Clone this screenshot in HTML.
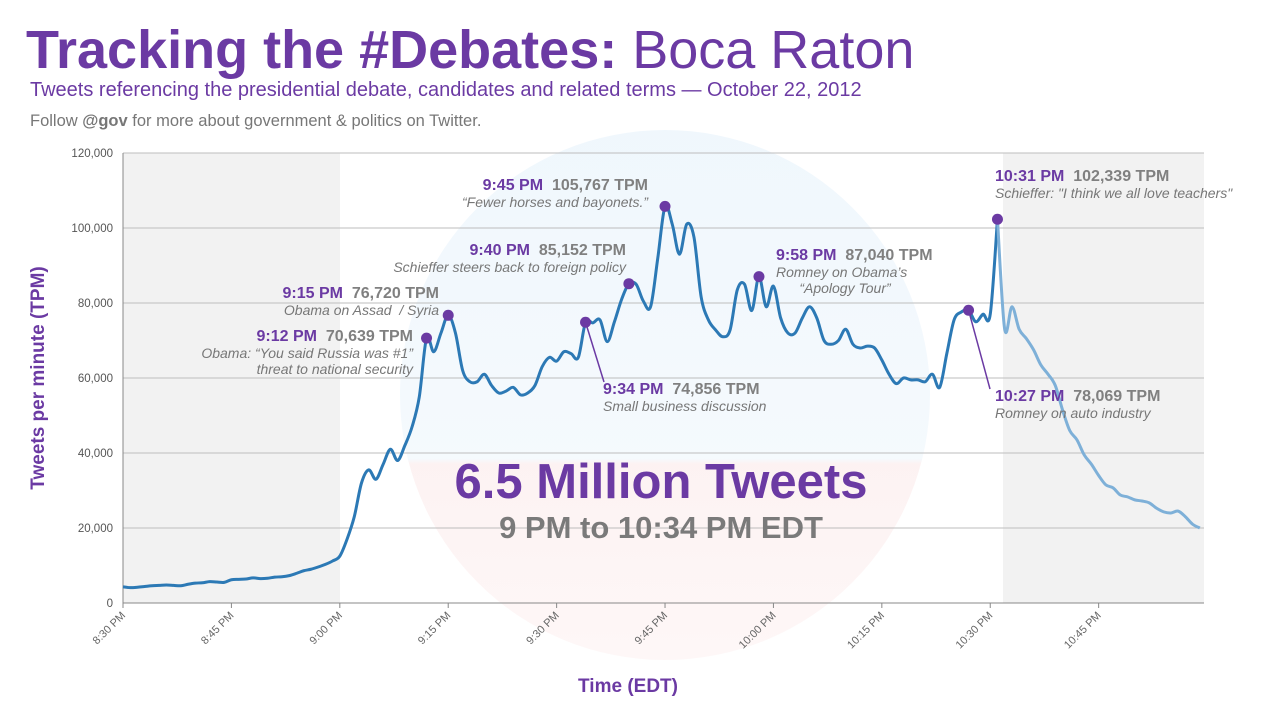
<!DOCTYPE html>
<html><head><meta charset="utf-8"><style>
html,body{margin:0;padding:0;background:#fff;}
svg{display:block;font-family:"Liberation Sans",Arial,sans-serif;}
</style></head><body>
<svg id="chart" width="1280" height="720" viewBox="0 0 1280 720">
<defs>
<linearGradient id="wm" x1="0" y1="0" x2="0" y2="1">
<stop offset="0" stop-color="#e6f2fb"/><stop offset="0.62" stop-color="#eef6fc"/><stop offset="0.63" stop-color="#fbeaea"/><stop offset="1" stop-color="#fdf2f2"/>
</linearGradient>
</defs>
<rect x="123" y="153" width="217" height="450" fill="#f2f2f2"/>
<rect x="1003" y="153" width="201" height="450" fill="#f2f2f2"/>
<circle cx="665" cy="395" r="265" fill="url(#wm)" opacity="0.6"/>
<g id="grid"></g>
<g id="yticks"></g>
<g id="xticks"></g>
<g id="series"></g>
<g id="annots"></g>
<text x="26" y="68" font-size="54" fill="#6b3aa3"><tspan font-weight="bold">Tracking the #Debates:</tspan> Boca Raton</text>
<text x="30" y="96" font-size="20" fill="#6b3aa3">Tweets referencing the presidential debate, candidates and related terms — October 22, 2012</text>
<text x="30" y="126" font-size="16.5" fill="#777">Follow <tspan font-weight="bold">@gov</tspan> for more about government &amp; politics on Twitter.</text>
<text transform="translate(44,378) rotate(-90)" text-anchor="middle" font-size="19" font-weight="bold" fill="#6b3aa3">Tweets per minute (TPM)</text>
<text x="628" y="692" text-anchor="middle" font-size="19" font-weight="bold" fill="#6b3aa3">Time (EDT)</text>
<text x="661" y="498" text-anchor="middle" font-size="49" font-weight="bold" fill="#6b3aa3">6.5 Million Tweets</text>
<text x="661" y="538" text-anchor="middle" font-size="31" font-weight="bold" fill="#7a7a7a">9 PM to 10:34 PM EDT</text>
</svg>
<script>
const yTicks = [0,20000,40000,60000,80000,100000,120000];
const xTickLabels = ["8:30 PM","8:45 PM","9:00 PM","9:15 PM","9:30 PM","9:45 PM","10:00 PM","10:15 PM","10:30 PM","10:45 PM"];
const xTickMinutes = [0,15,30,45,60,75,90,105,120,135];
// thousands of tweets per minute, one per minute starting 8:30 PM
const tpm = [4.3,4.1,4.2,4.4,4.6,4.7,4.8,4.7,4.6,5.0,5.3,5.4,5.7,5.6,5.5,6.2,6.3,6.4,6.7,6.5,6.6,6.9,7.0,7.3,7.9,8.6,9.0,9.6,10.3,11.2,
12.5,17,23,32,35.5,33,37,41,38,42,47,55,70.64,67,72,76.72,72,62,59,59,61,58,56,56.5,57.5,55.5,56,58,63,65.5,
64.5,67,66.5,65.5,74.86,74.7,75.5,69.7,75,81,85.15,85,80.5,79,92,105.77,101,93,101,97.6,
81.6,75.5,72.8,71,72.8,83.5,85,78,87.04,79,84.5,76,72,72,76,79,76,70,69,70,
73,69,68,68.5,68,64.8,61,58.5,60,59.5,59.5,59,61,57.5,66.6,75.5,77.6,78.07,75,77,
77,102.34,73,79,73,70.5,67.5,63.5,61,58,51.5,46,43.5,39.5,37,34,31.5,30.7,28.8,28.3,
27.5,27.2,26.7,25.3,24.3,24,24.5,23,21,20];
const debateEndIndex = 121;
const annTimes = ["9:12 PM","9:15 PM","9:34 PM","9:40 PM","9:45 PM","9:58 PM","10:27 PM","10:31 PM"];
const annMinutes = [42,45,64,70,75,88,117,121];
const annValues = ["70,639","76,720","74,856","85,152","105,767","87,040","78,069","102,339"];

const NS="http://www.w3.org/2000/svg";
const X0=123, PX_PER_MIN=7.227, Y0=603, PX_PER_K=3.75;
const xs=m=>X0+m*PX_PER_MIN;
const ys=k=>Y0-k*PX_PER_K;
function mk(tag,attrs,parent,text){const e=document.createElementNS(NS,tag);for(const k in attrs)e.setAttribute(k,attrs[k]);if(text!==undefined)e.textContent=text;parent.appendChild(e);return e;}
const grid=document.getElementById('grid'), yt=document.getElementById('yticks'), xt=document.getElementById('xticks'), ser=document.getElementById('series'), an=document.getElementById('annots');

yTicks.forEach(v=>{
  const y=ys(v/1000);
  const l=mk('line',{x1:X0,x2:1204,y1:y,y2:y,stroke:v===0?'#888':'#bdbdbd','stroke-width':1},grid);
  
  
  const t=mk('text',{x:113,y:y+4,'text-anchor':'end','font-size':11.5,fill:'#555'},yt,v.toLocaleString('en-US'));
  
  
});
const ax=mk('line',{x1:X0,x2:X0,y1:153,y2:Y0,stroke:'#888'},grid);


xTickMinutes.forEach((m,i)=>{
  const x=xs(m);
  const tk=mk('line',{x1:x,x2:x,y1:Y0,y2:Y0+5,stroke:'#888'},xt);
  
  
  const t=mk('text',{transform:`translate(${x+3},${Y0+13}) rotate(-45)`,'text-anchor':'end','font-size':11,fill:'#666'},xt,xTickLabels[i]);
  
  
});

function pathFor(a,b){
  const pts=[];for(let i=a;i<=b;i++)pts.push([xs(i),ys(tpm[i])]);
  let d=`M${pts[0][0]},${pts[0][1]}`;
  for(let i=0;i<pts.length-1;i++){
    const p0=pts[Math.max(0,i-1)],p1=pts[i],p2=pts[i+1],p3=pts[Math.min(pts.length-1,i+2)];
    const c1=[p1[0]+(p2[0]-p0[0])/6,p1[1]+(p2[1]-p0[1])/6];
    const c2=[p2[0]-(p3[0]-p1[0])/6,p2[1]-(p3[1]-p1[1])/6];
    d+=` C${c1[0]},${c1[1]} ${c2[0]},${c2[1]} ${p2[0]},${p2[1]}`;
  }
  return d;
}
const p1=mk('path',{d:pathFor(0,debateEndIndex),fill:'none',stroke:'#2c79b5','stroke-width':3,'stroke-linejoin':'round'},ser);


const p2=mk('path',{d:pathFor(debateEndIndex,tpm.length-1),fill:'none',stroke:'#7eb0d8','stroke-width':3,'stroke-linejoin':'round'},ser);



// annotation text layout: [anchor, x, y, descLines, leaderTo]
const layout=[
 ['end',413,341,["Obama: “You said Russia was #1”","threat to national security"],null],
 ['end',439,298,["Obama on Assad  / Syria"],null],
 ['start',603,394,["Small business discussion"],[604,382]],
 ['end',626,255,["Schieffer steers back to foreign policy"],null],
 ['end',648,190,["“Fewer horses and bayonets.”"],null],
 ['start',776,260,["Romney on Obama’s","      “Apology Tour”"],null],
 ['start',995,401,["Romney on auto industry"],[990,389]],
 ['start',995,181,["Schieffer: \"I think we all love teachers\""],null]
];
annMinutes.forEach((m,i)=>{
  const [anc,x,y,desc,lead]=layout[i];
  const cx=xs(m), cy=ys(tpm[m]);
  if(lead){const l=mk('line',{x1:cx,y1:cy,x2:lead[0],y2:lead[1],stroke:'#6b3aa3','stroke-width':1.5},an);
    
    }
  const c=mk('circle',{cx:cx,cy:cy,r:5.5,fill:'#6b3aa3'},an);
  
  
  const t=mk('text',{x:x,y:y,'text-anchor':anc,'font-size':16,'font-weight':'bold'},an);
  
  
  mk('tspan',{fill:'#6b3aa3'},t,annTimes[i]+' ');
  mk('tspan',{fill:'#808080'},t,' '+annValues[i]+' TPM');
  t.style.whiteSpace='pre';
  desc.forEach((d,j)=>{
    const dt=mk('text',{x:x,y:y+17+j*16,'text-anchor':anc,'font-size':14,'font-style':'italic',fill:'#777'},an,d);
    dt.style.whiteSpace='pre';
    
    
  });
});
</script>
</body></html>
